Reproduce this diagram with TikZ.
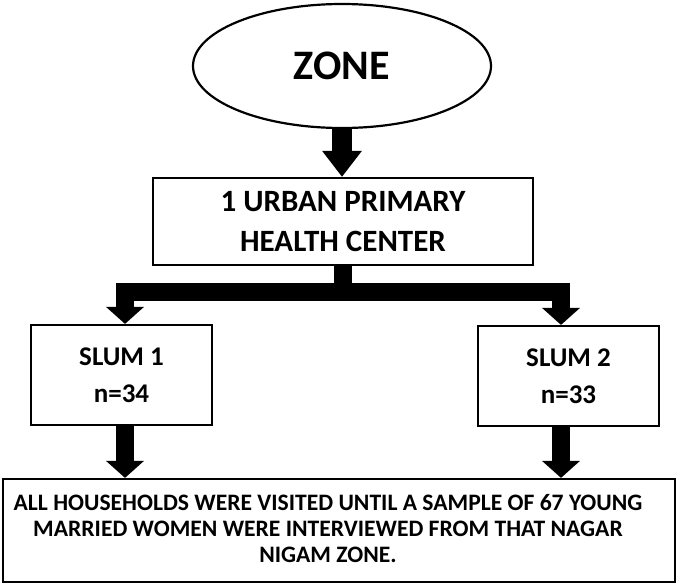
\documentclass[tikz,border=0pt]{standalone}
\usepackage{fontspec}
\setmainfont{Carlito}
\usetikzlibrary{shapes.geometric,arrows.meta}
\begin{document}
\begin{tikzpicture}[x=1pt,y=-1pt,
  frame/.style={draw=black,line width=2.2pt,fill=white,inner sep=0pt,align=center,font=\bfseries},
  bigarrow/.style={line width=20pt,-{Triangle[width=38pt,length=26pt]}},
  midarrow/.style={line width=18pt,-{Triangle[width=37pt,length=17pt]}}]
\useasboundingbox (0,0) rectangle (685,584);
\node[frame,ellipse,minimum width=298pt,minimum height=124pt,font=\fontsize{42}{46}\selectfont\bfseries] (zone) at (342,66) {ZONE};
\node[frame,minimum width=380pt,minimum height=87pt,font=\fontsize{31}{40}\selectfont\bfseries] (uphc) at (343,221.5) {1 URBAN PRIMARY\\HEALTH CENTER};
\node[frame,minimum width=181pt,minimum height=100pt,font=\fontsize{27}{37}\selectfont\bfseries] (slum1) at (121.5,375) {SLUM 1\\n=34};
\node[frame,minimum width=181pt,minimum height=100pt,font=\fontsize{27}{37}\selectfont\bfseries] (slum2) at (568.5,376) {SLUM 2\\n=33};
\node[frame,minimum width=672pt,minimum height=103pt] (all) at (339,530.5) {};
\node[inner sep=0pt,align=center,font=\fontsize{23.6}{26}\selectfont\bfseries] (alltext) at (328,529) {ALL HOUSEHOLDS WERE VISITED UNTIL A SAMPLE OF 67 YOUNG\\MARRIED WOMEN WERE INTERVIEWED FROM THAT NAGAR\\NIGAM ZONE.};
\coordinate (lx) at (125,0);
\coordinate (rx) at (561,0);
\coordinate (bar) at (0,292);
\draw[bigarrow] (zone.south) -- (uphc.north -| zone.south);
\draw[midarrow] (uphc.south) -- (uphc.south |- bar) -| (slum1.north -| lx);
\draw[midarrow] (uphc.south) -- (uphc.south |- bar) -| (slum2.north -| rx);
\draw[midarrow] (slum1.south -| lx) -- (all.north -| lx);
\draw[midarrow] (slum2.south -| rx) -- (all.north -| rx);
\end{tikzpicture}
\end{document}
